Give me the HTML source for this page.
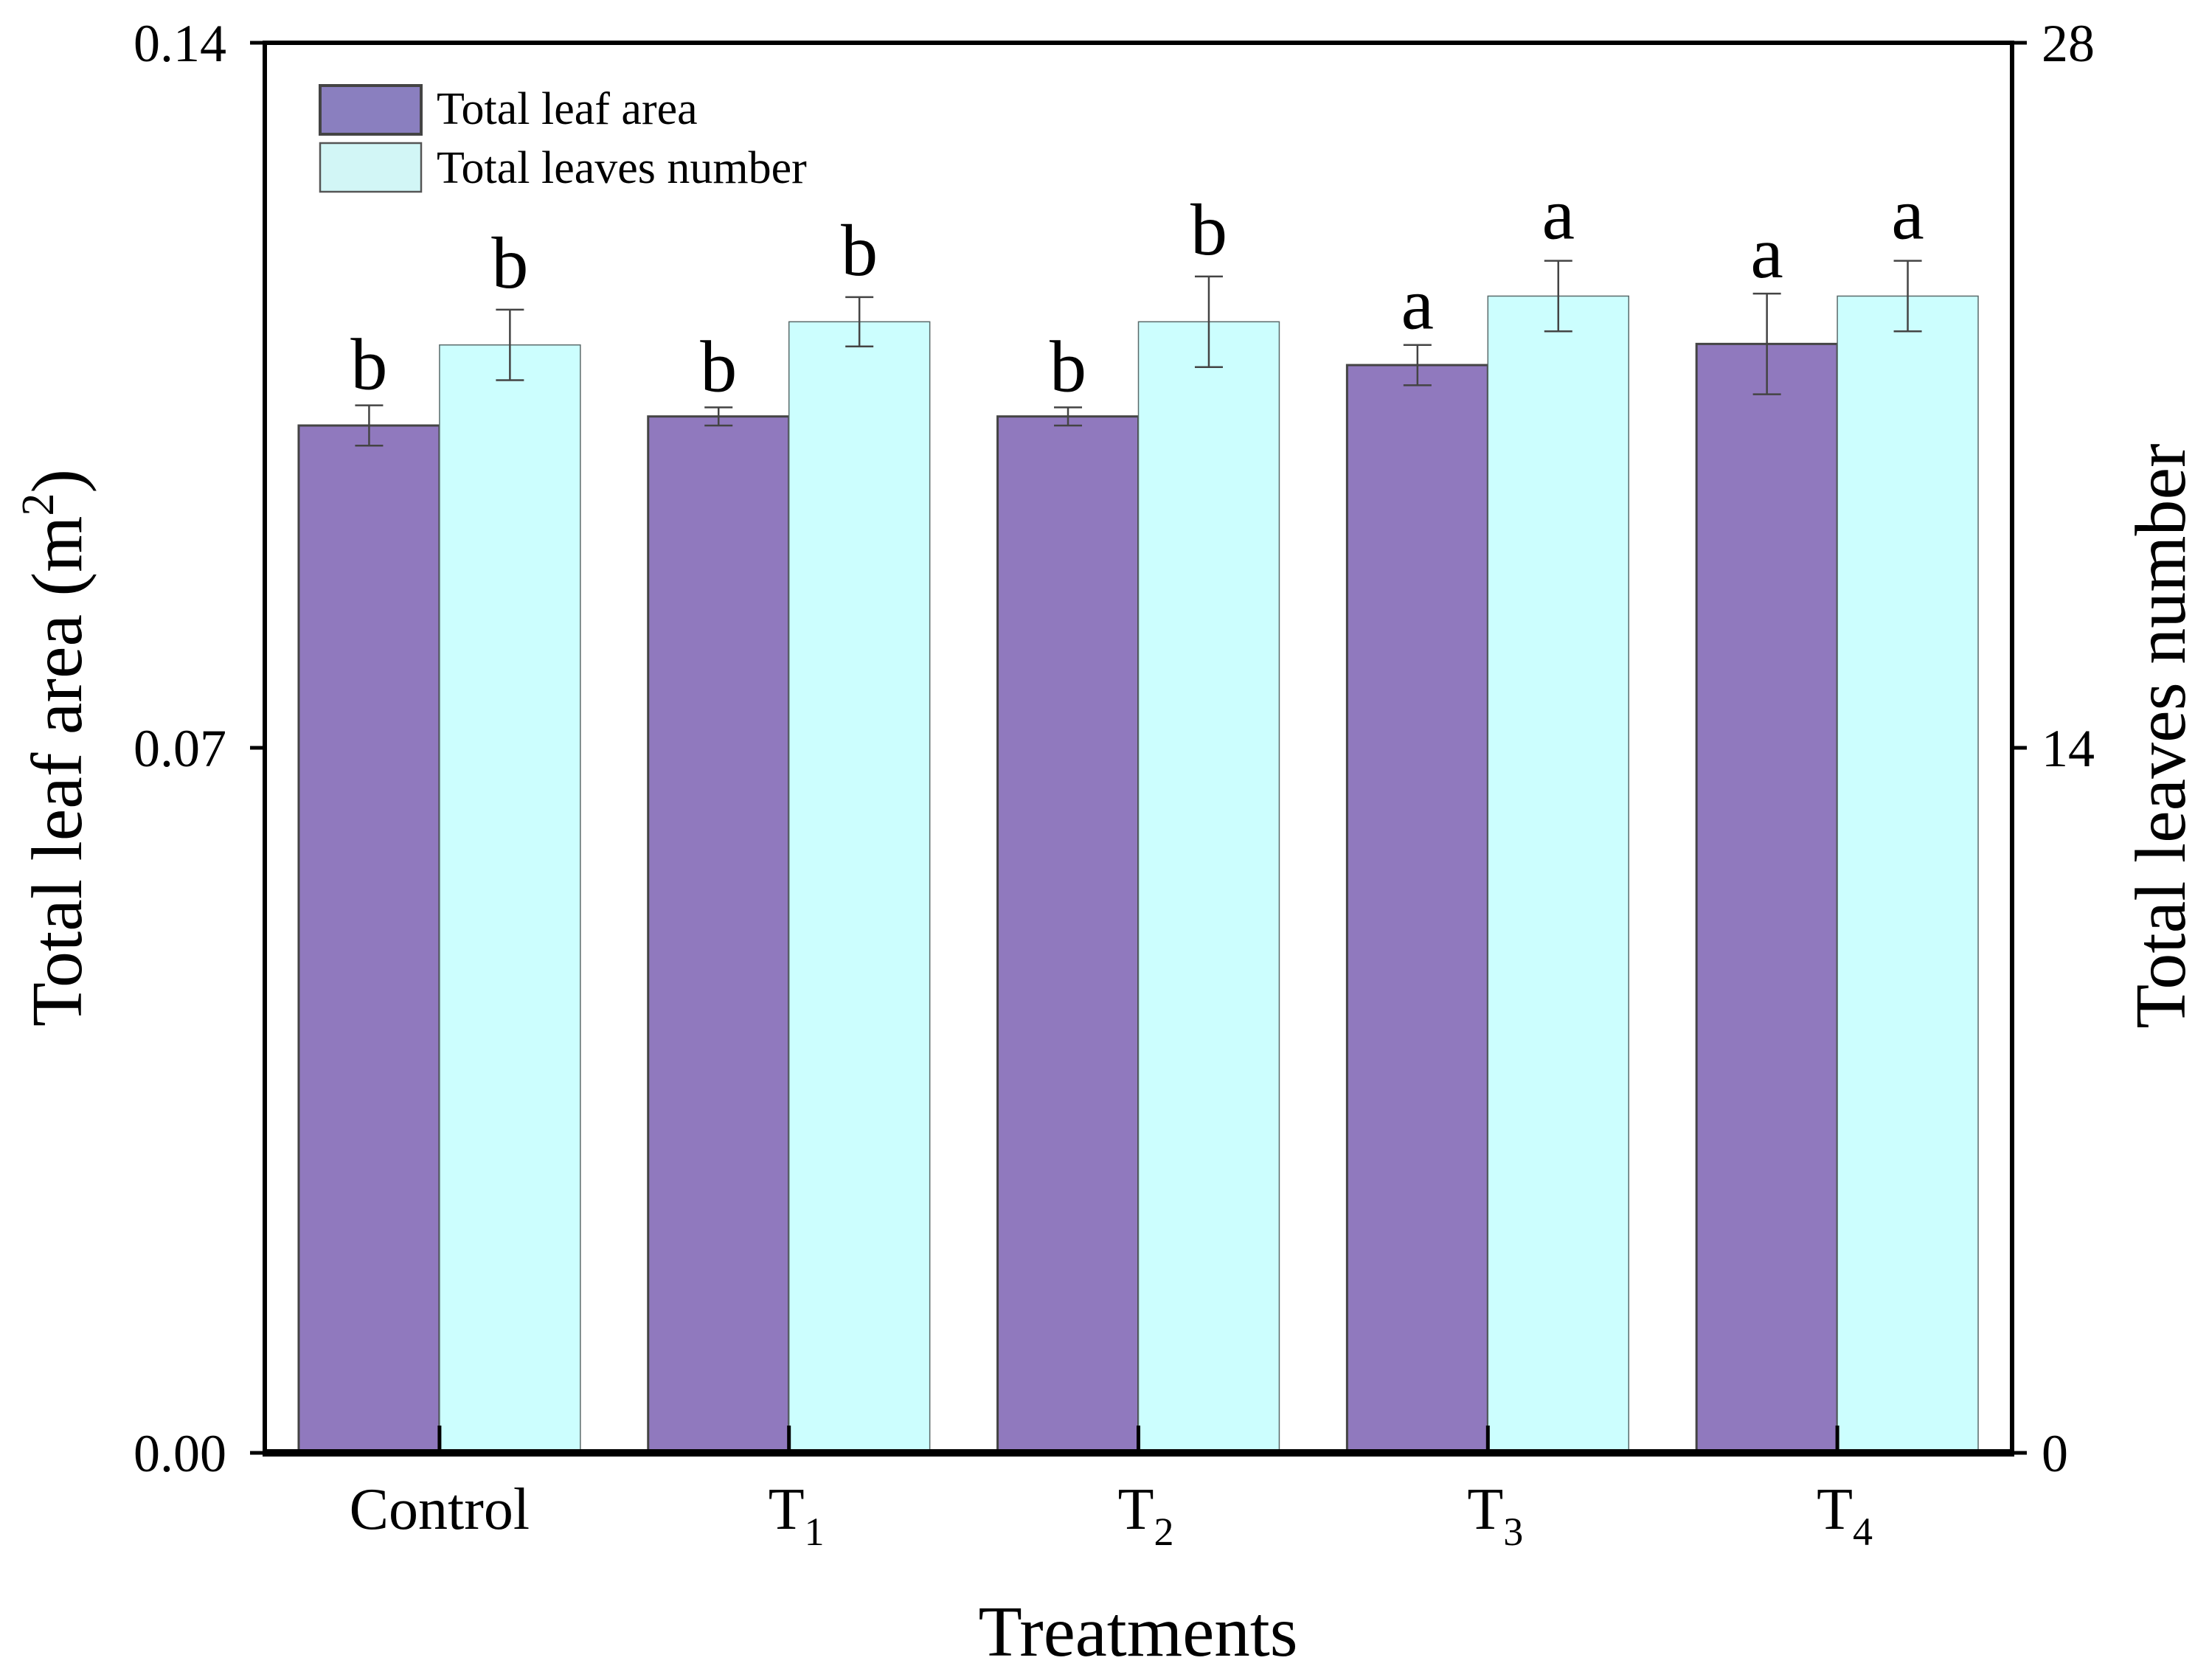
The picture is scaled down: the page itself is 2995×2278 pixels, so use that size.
<!DOCTYPE html>
<html><head><meta charset="utf-8"><style>
html,body{margin:0;padding:0;background:#fff}
svg{display:block}
text{font-family:"Liberation Serif",serif;fill:#000}
</style></head><body>
<svg id="chart" width="2995" height="2278" viewBox="0 0 2995 2278" xmlns="http://www.w3.org/2000/svg"></svg>
<script>
const categories = ["Control","T1","T2","T3","T4"];
const catSubs = ["","1","2","3","4"];
const leafArea = [0.1020,0.1029,0.1029,0.1080,0.1101];
const leafAreaErr = [0.0020,0.0009,0.0009,0.0020,0.0050];
const leafAreaLetters = ["b","b","b","a","a"];
const leavesNum = [22.0,22.46,22.46,22.97,22.97];
const leavesNumErr = [0.70,0.49,0.90,0.70,0.70];
const leavesNumLetters = ["b","b","b","a","a"];
const leftTicks = [0,0.07,0.14];
const leftTickLabels = ["0.00","0.07","0.14"];
const rightTicks = [0,14,28];
const rightTickLabels = ["0","14","28"];

const NS="http://www.w3.org/2000/svg";
const svg=document.getElementById('chart');
const X0=359,X1=2728,YT=58,YB=1970;
const slot=(X1-X0)/categories.length;
const bw=slot*0.403;
function yL(v){return YB-(v/0.14)*(YB-YT);}
function yR(v){return YB-(v/28)*(YB-YT);}
function mk(tag,attrs){const e=document.createElementNS(NS,tag);for(const k in attrs)e.setAttribute(k,attrs[k]);svg.appendChild(e);return e;}

categories.forEach((c,i)=>{
  const cx=X0+slot*(i+0.5);
  const yp=yL(leafArea[i]);
  const b1=mk('rect',{x:cx-bw,y:yp,width:bw,height:YB-yp,fill:'#9079be',stroke:'#444',"stroke-width":3});
  
  
  const yc=yR(leavesNum[i]);
  const b2=mk('rect',{x:cx,y:yc,width:bw,height:YB-yc,fill:'#ccfefe',stroke:'#5a6a6a',"stroke-width":1.5});
  
  
  const ex1=cx-bw/2, e1t=yL(leafArea[i]+leafAreaErr[i]), e1b=yL(leafArea[i]-leafAreaErr[i]);
  const g1=mk('path',{d:`M${ex1},${e1t}V${e1b}M${ex1-19},${e1t}H${ex1+19}M${ex1-19},${e1b}H${ex1+19}`,stroke:'#444',"stroke-width":2.5,fill:'none'});
  
  
  const ex2=cx+bw/2, e2t=yR(leavesNum[i]+leavesNumErr[i]), e2b=yR(leavesNum[i]-leavesNumErr[i]);
  const g2=mk('path',{d:`M${ex2},${e2t}V${e2b}M${ex2-19},${e2t}H${ex2+19}M${ex2-19},${e2b}H${ex2+19}`,stroke:'#444',"stroke-width":2.5,fill:'none'});
  
  
  const l1=mk('text',{x:ex1,y:e1t-22,"font-size":100,"text-anchor":"middle"});l1.textContent=leafAreaLetters[i];
  
  
  const l2=mk('text',{x:ex2,y:e2t-30,"font-size":100,"text-anchor":"middle"});l2.textContent=leavesNumLetters[i];
  
  
  const tk=mk('line',{x1:cx,y1:YB,x2:cx,y2:YB-37,stroke:'#000',"stroke-width":5});
  
  
  const t=mk('text',{x:cx,y:2073,"font-size":80,"text-anchor":"middle"});
  
  
  if(catSubs[i]){t.textContent='T';const s=document.createElementNS(NS,'tspan');s.setAttribute('font-size',54);s.setAttribute('dy',22);s.textContent=catSubs[i];t.appendChild(s);t.setAttribute('x',cx+10);}
  else t.textContent=c;
});
const fr=mk('rect',{x:X0,y:YT,width:X1-X0,height:YB-YT,fill:'none',stroke:'#000',"stroke-width":6});


const xb=mk('line',{x1:X0-3,y1:YB,x2:X1+3,y2:YB,stroke:'#000',"stroke-width":10});


leftTicks.forEach((v,i)=>{
  const y=yL(v);
  const l=mk('line',{x1:X0-20,y1:y,x2:X0,y2:y,stroke:'#000',"stroke-width":5});
  
  
  const t=mk('text',{x:307,y:y+25,"font-size":72,"text-anchor":"end"});t.textContent=leftTickLabels[i];
  
  
});
rightTicks.forEach((v,i)=>{
  const y=yR(v);
  const l=mk('line',{x1:X1,y1:y,x2:X1+20,y2:y,stroke:'#000',"stroke-width":5});
  
  
  const t=mk('text',{x:2768,y:y+25,"font-size":72,"text-anchor":"start"});t.textContent=rightTickLabels[i];
  
  
});
</script>
<svg style="position:absolute;left:0;top:0" width="2995" height="2278" viewBox="0 0 2995 2278" xmlns="http://www.w3.org/2000/svg">
  <g>
    <rect x="434" y="116" width="137" height="66" fill="#8a7fbf" stroke="#444" stroke-width="4"/>
    <text x="592" y="168" font-size="62" font-family="Liberation Serif, serif">Total leaf area</text>
    <rect x="434" y="194" width="137" height="66" fill="#d2f6f6" stroke="#555" stroke-width="2.5"/>
    <text x="592" y="248" font-size="62" font-family="Liberation Serif, serif">Total leaves number</text>
  </g>
  <text x="1543" y="2245" font-size="97" text-anchor="middle" font-family="Liberation Serif, serif">Treatments</text>
  <text transform="translate(110,1014) rotate(-90)" font-size="98" text-anchor="middle" font-family="Liberation Serif, serif">Total leaf area (m<tspan font-size="62" dy="-38">2</tspan><tspan dy="38">)</tspan></text>
  <text transform="translate(2962,998) rotate(-90)" font-size="98" text-anchor="middle" font-family="Liberation Serif, serif">Total leaves number</text>
</svg>
</body></html>
